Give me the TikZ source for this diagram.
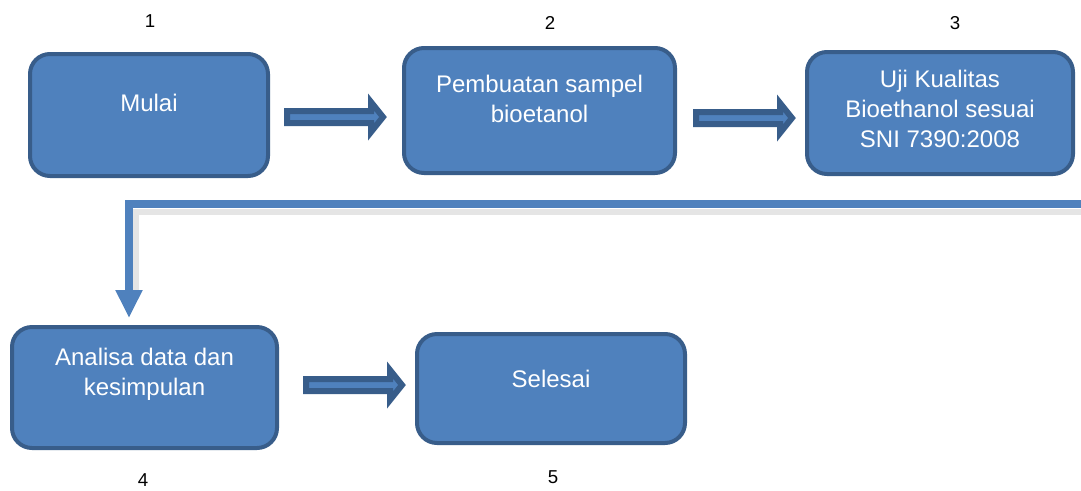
\documentclass[tikz,border=0pt]{standalone}
\usepackage{fontspec}
\setmainfont{Liberation Sans}
\usetikzlibrary{arrows.meta,positioning,calc}

\definecolor{boxfill}{HTML}{4F81BD}
\definecolor{boxline}{HTML}{385D8A}

\tikzset{
  box/.style={draw=boxline,fill=boxfill,line width=3pt,rounded corners=15pt,
    text=white,align=center,font=\fontsize{18}{22.5}\selectfont},
  num/.style={font=\fontsize{14}{16}\selectfont},
  conn/.style={draw=boxfill,line width=6pt,-{Triangle[width=19pt,length=21pt]}},
  blockarr/.pic={
    \draw[boxline,fill=boxfill,line width=4.5pt,miter limit=20]
      (0,-6)--(84,-6)--(84,-15)--(96,0)--(84,15)--(84,6)--(0,6)--cycle;
  }
}

\begin{document}
\begin{tikzpicture}[x=0.75pt,y=-0.75pt]
  \useasboundingbox (0,0) rectangle (1081,490);

  \node[box,minimum width=178.5pt,minimum height=91.5pt,text depth=18pt] (m1) at (149,115) {Mulai};
  \node[box,minimum width=203.25pt,minimum height=93.75pt,text depth=17pt] (m2) at (539.5,110.5) {Pembuatan sampel\\bioetanol};
  \node[box,minimum width=199.5pt,minimum height=91.5pt,text depth=6pt] (m3) at (940,113) {Uji Kualitas\\Bioethanol sesuai\\SNI 7390:2008};
  \node[box,minimum width=198.75pt,minimum height=90.75pt,text depth=24pt] (m4) at (144.5,387.5) {Analisa data dan\\kesimpulan};
  \node[box,minimum width=201pt,minimum height=81.75pt,text depth=15pt] (m5) at (551,388.5) {Selesai};

  \node[num] (l1) at (150,21) {1};
  \node[num] (l2) at (550,23) {2};
  \node[num] (l3) at (955,23) {3};
  \node[num] (l4) at (143,480) {4};
  \node[num] (l5) at (553,477) {5};

  % block arrows
  \pic at ($(m1.east)+(17,2)$) {blockarr};
  \pic at ($(m2.east)+(19,7.5)$) {blockarr};
  \pic at ($(m4.east)+(27,-2.5)$) {blockarr};

  % elbow connector
  \coordinate (k3) at (1081,204);
  \coordinate (t4) at (129,318);
  \draw[gray!20,line width=4pt] ($(k3)+(0,8)$) -- (136,212) -- (136,292);
  \draw[conn] (k3) -| (t4);
\end{tikzpicture}
\end{document}
